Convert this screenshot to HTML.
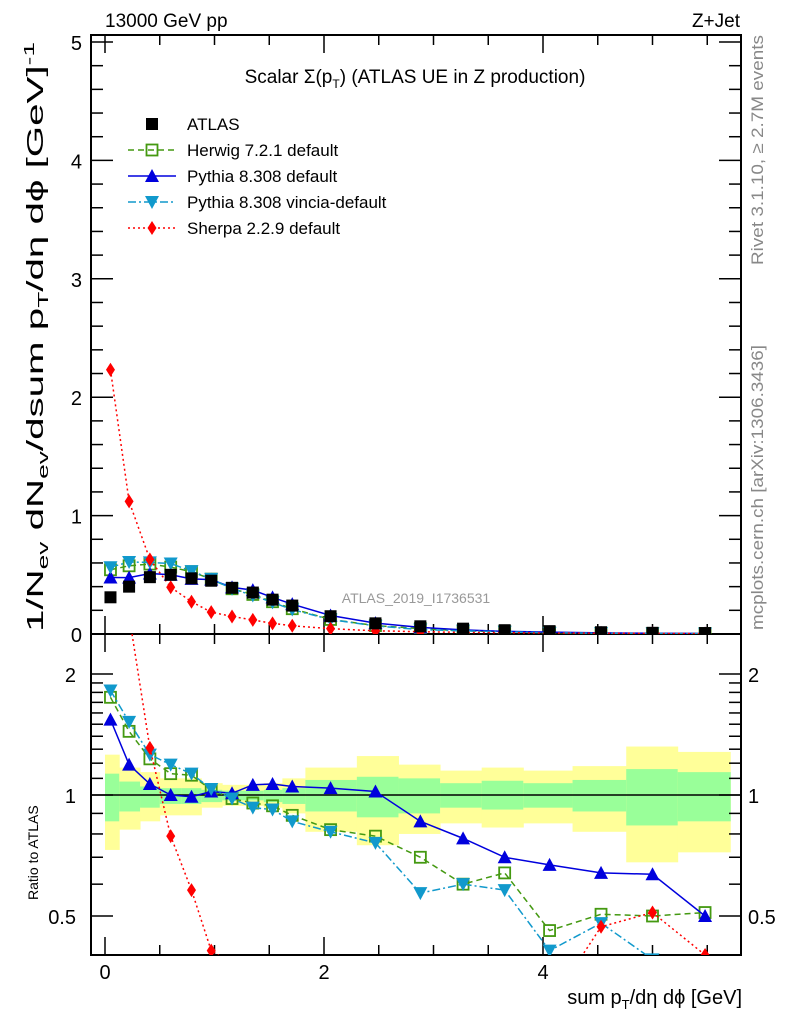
<!DOCTYPE html>
<html><head><meta charset="utf-8"><style>
body{margin:0;background:#fff;}
svg{font-family:"Liberation Sans",sans-serif;}
</style></head><body>
<svg id="c" width="786" height="1024" viewBox="0 0 786 1024" xmlns="http://www.w3.org/2000/svg">
<defs>
<clipPath id="cm"><rect x="91" y="35" width="650" height="599"/></clipPath>
<clipPath id="cr"><rect x="91" y="634" width="650" height="321"/></clipPath>
</defs>
<g id="bands" clip-path="url(#cr)"></g>
<g id="axes"></g>
<g id="series"></g>
<text x="105" y="27" font-size="19">13000 GeV pp</text>
<text x="740" y="27" font-size="19" text-anchor="end">Z+Jet</text>
<text x="415" y="83" font-size="19" text-anchor="middle">Scalar Σ(p<tspan font-size="12" dy="5">T</tspan><tspan dy="-5">) (ATLAS UE in Z production)</tspan></text>
<text transform="translate(763,265) rotate(-90)" font-size="17" fill="#888" textLength="230" lengthAdjust="spacingAndGlyphs">Rivet 3.1.10, ≥ 2.7M events</text>
<text transform="translate(763,630) rotate(-90)" font-size="17" fill="#888" textLength="285" lengthAdjust="spacingAndGlyphs">mcplots.cern.ch [arXiv:1306.3436]</text>
<text x="416" y="603" font-size="14" fill="#999" text-anchor="middle">ATLAS_2019_I1736531</text>
<text transform="translate(43,632) rotate(-90)" font-size="23" textLength="590" lengthAdjust="spacingAndGlyphs">1/N<tspan font-size="15" dy="5">ev</tspan><tspan dy="-5"> dN</tspan><tspan font-size="15" dy="5">ev</tspan><tspan dy="-5">/dsum p</tspan><tspan font-size="15" dy="5">T</tspan><tspan dy="-5">/dη dϕ  [GeV]</tspan><tspan font-size="15" dy="-9">-1</tspan></text>
<text transform="translate(38,900) rotate(-90)" font-size="14">Ratio to ATLAS</text>
<text x="742" y="1004" font-size="20" text-anchor="end">sum p<tspan font-size="13" dy="5">T</tspan><tspan dy="-5">/dη dϕ [GeV]</tspan></text>
<g id="legend"></g>
</svg>
<script>
const NS="http://www.w3.org/2000/svg";
const xCenters=[0.05,0.22,0.41,0.6,0.79,0.97,1.16,1.35,1.53,1.71,2.06,2.47,2.88,3.27,3.65,4.06,4.53,5.0,5.48];
const binEdges=[0,0.13,0.32,0.5,0.7,0.88,1.07,1.26,1.45,1.62,1.83,2.3,2.68,3.06,3.44,3.82,4.27,4.76,5.23,5.71];
const atlas=[0.31,0.40,0.48,0.50,0.47,0.45,0.39,0.35,0.29,0.24,0.15,0.09,0.065,0.045,0.032,0.024,0.015,0.010,0.008];
const herwigRatio=[1.75,1.44,1.23,1.13,1.12,1.03,0.98,0.955,0.94,0.89,0.82,0.79,0.70,0.60,0.64,0.46,0.505,0.50,0.51];
const pythiaRatio=[1.54,1.19,1.065,1.0,0.99,1.02,1.01,1.06,1.065,1.05,1.04,1.02,0.86,0.78,0.70,0.67,0.64,0.635,0.50];
const vinciaRatio=[1.82,1.52,1.26,1.19,1.13,1.035,0.98,0.93,0.92,0.86,0.81,0.76,0.57,0.60,0.58,0.41,0.48,0.39,0.35];
const sherpaRatio=[7.2,2.8,1.31,0.79,0.58,0.41,0.38,0.34,0.31,0.29,0.3,0.3,0.3,0.3,0.36,0.3,0.47,0.51,0.40];
const yellowUp=[1.26,1.17,1.14,1.1,1.1,1.07,1.06,1.06,1.07,1.1,1.17,1.25,1.19,1.15,1.17,1.15,1.18,1.32,1.28];
const yellowDn=[0.73,0.82,0.86,0.89,0.89,0.93,0.94,0.94,0.93,0.9,0.81,0.75,0.8,0.85,0.83,0.85,0.81,0.68,0.72];
const greenUp=[1.13,1.08,1.05,1.04,1.04,1.03,1.025,1.025,1.03,1.04,1.09,1.11,1.10,1.07,1.085,1.07,1.09,1.16,1.14];
const greenDn=[0.86,0.91,0.93,0.95,0.95,0.96,0.97,0.97,0.96,0.95,0.91,0.88,0.9,0.93,0.92,0.93,0.91,0.84,0.86];
const mainTicks=[0,1,2,3,4,5];
const ratioTicks=[0.5,1,2];
const xTicks=[0,2,4];

const X=v=>105+v*109.5;
const Y=v=>634-v*118.4;
const R=v=>795-121*Math.log2(v);
function mk(t,a,p){const e=document.createElementNS(NS,t);for(const k in a)e.setAttribute(k,a[k]);(p||document.getElementById('c')).appendChild(e);return e;}
const axes=document.getElementById('axes'),bands=document.getElementById('bands'),series=document.getElementById('series');

for(let i=0;i<xCenters.length;i++){
  const x0=X(binEdges[i]),x1=X(binEdges[i+1]);
  const y=mk('rect',{x:x0,y:R(yellowUp[i]),width:x1-x0+0.5,height:R(yellowDn[i])-R(yellowUp[i]),fill:'#ffff99'},bands);
  
  
  const g=mk('rect',{x:x0,y:R(greenUp[i]),width:x1-x0+0.5,height:R(greenDn[i])-R(greenUp[i]),fill:'#99ff99'},bands);
  
  
}
mk('rect',{x:91,y:35,width:650,height:599,fill:'none',stroke:'#000','stroke-width':2},axes);
mk('rect',{x:91,y:634,width:650,height:321,fill:'none',stroke:'#000','stroke-width':2},axes);
mk('line',{x1:91,x2:741,y1:R(1),y2:R(1),stroke:'#000','stroke-width':1.5},axes);
for(let v=0;v<=5.001;v+=0.2){const maj=Math.abs(v-Math.round(v))<1e-6,l=maj?22:12;
  mk('line',{x1:91,x2:91+l,y1:Y(v),y2:Y(v),stroke:'#000','stroke-width':1.5},axes);
  mk('line',{x1:741,x2:741-l,y1:Y(v),y2:Y(v),stroke:'#000','stroke-width':1.5},axes);}
mainTicks.forEach(v=>{const t=mk('text',{x:82,y:Y(v)+8,'font-size':20,'text-anchor':'end'},axes);t.textContent=v;
  
  });
for(let v=0.4;v<=2.5;v+=(v<1.999?0.1:0.5)){const r=Math.round(v*10)/10;if(R(r)<634||R(r)>955)continue;
  const maj=[0.5,1,2].includes(r),l=maj?22:12;
  mk('line',{x1:91,x2:91+l,y1:R(r),y2:R(r),stroke:'#000','stroke-width':1.5},axes);
  mk('line',{x1:741,x2:741-l,y1:R(r),y2:R(r),stroke:'#000','stroke-width':1.5},axes);}
ratioTicks.forEach(v=>{const t=mk('text',{x:76,y:R(v)+8,'font-size':20,'text-anchor':'end'},axes);t.textContent=v;
  
  
  const t2=mk('text',{x:748,y:R(v)+8,'font-size':20},axes);t2.textContent=v;
  
  });
for(let v=0;v<=5.75;v+=0.5){const maj=Math.abs(v/2-Math.round(v/2))<1e-6,l=maj?18:10;
  [[634,-1],[955,-1],[35,1],[634,1]].forEach(([y,d])=>mk('line',{x1:X(v),x2:X(v),y1:y,y2:y+d*l,stroke:'#000','stroke-width':1.5},axes));}
xTicks.forEach(v=>{const t=mk('text',{x:X(v),y:979,'font-size':20,'text-anchor':'middle'},axes);t.textContent=v;
  
  });

function marker(type,x,y,col,p){
  if(type==='sq')return mk('rect',{x:x-6,y:y-6,width:12,height:12,fill:'#000'},p);
  if(type==='osq')return mk('rect',{x:x-5.5,y:y-5.5,width:11,height:11,fill:'none',stroke:col,'stroke-width':1.8},p);
  if(type==='up')return mk('polygon',{points:`${x-7},${y+6} ${x+7},${y+6} ${x},${y-7}`,fill:col},p);
  if(type==='dn')return mk('polygon',{points:`${x-7},${y-6} ${x+7},${y-6} ${x},${y+7}`,fill:col},p);
  if(type==='dia')return mk('polygon',{points:`${x},${y-7} ${x+4.5},${y} ${x},${y+7} ${x-4.5},${y}`,fill:col},p);
}
const models=[
 {name:'herwig',ratio:herwigRatio,col:'#449911',m:'osq',dash:'6,4'},
 {name:'pythia',ratio:pythiaRatio,col:'#0000dd',m:'up',dash:''},
 {name:'vincia',ratio:vinciaRatio,col:'#1199cc',m:'dn',dash:'8,3,2,3'},
 {name:'sherpa',ratio:sherpaRatio,col:'#ff0000',m:'dia',dash:'2,3'}];
const gm=mk('g',{'clip-path':'url(#cm)'},series),gr=mk('g',{'clip-path':'url(#cr)'},series);
models.forEach(md=>{
  const main=xCenters.map((x,i)=>[X(x),Y(atlas[i]*md.ratio[i])]);
  const rat=xCenters.map((x,i)=>[X(x),R(md.ratio[i])]);
  const l1=mk('polyline',{points:main.map(p=>p.join(',')).join(' '),fill:'none',stroke:md.col,'stroke-width':1.5,'stroke-dasharray':md.dash},gm);
  
  
  const l2=mk('polyline',{points:rat.map(p=>p.join(',')).join(' '),fill:'none',stroke:md.col,'stroke-width':1.5,'stroke-dasharray':md.dash},gr);
  
  
  main.forEach(p=>{const e=marker(md.m,p[0],p[1],md.col,gm);
    
    });
  rat.forEach(p=>{const e=marker(md.m,p[0],p[1],md.col,gr);
    
    });
});
xCenters.forEach((x,i)=>{const e=marker('sq',X(x),Y(atlas[i]),'#000',gm);
  
  });

const lg=document.getElementById('legend');
const leg=[['ATLAS','sq','#000',null],['Herwig 7.2.1 default','osq','#449911','6,4'],['Pythia 8.308 default','up','#0000dd',''],['Pythia 8.308 vincia-default','dn','#1199cc','8,3,2,3'],['Sherpa 2.2.9 default','dia','#ff0000','2,3']];
leg.forEach((d,i)=>{const y=124+i*26;
  if(d[3]!==null)mk('line',{x1:128,x2:176,y1:y,y2:y,stroke:d[2],'stroke-width':1.5,'stroke-dasharray':d[3]},lg);
  const e=marker(d[1],152,y,d[2],lg);
  
  
  const t=mk('text',{x:187,y:y+6,'font-size':17},lg);t.textContent=d[0];
  
  });
</script>
</body></html>
